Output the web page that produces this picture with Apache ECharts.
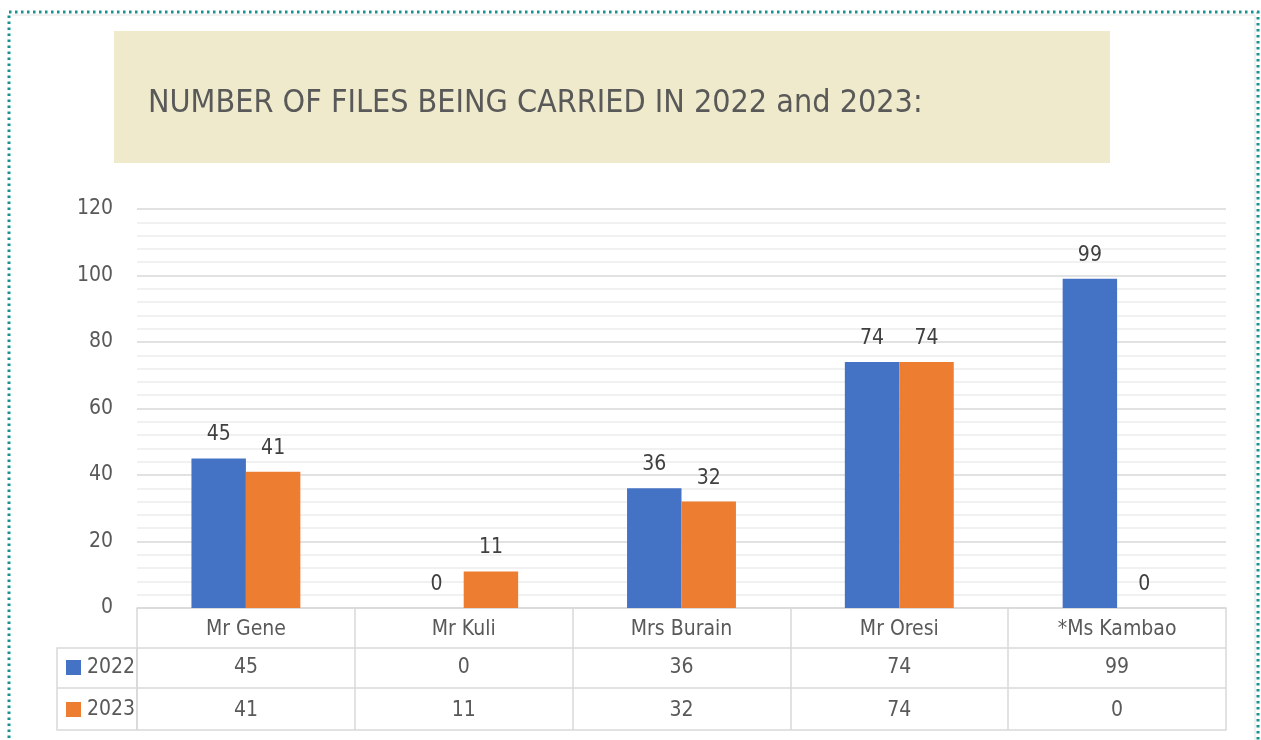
<!DOCTYPE html>
<html>
<head>
<meta charset="utf-8">
<script src="https://cdn.jsdelivr.net/npm/echarts@6/dist/echarts.min.js"></script>
<style>
  html, body { margin: 0; padding: 0; background: #fff; }
  #main { width: 1261px; height: 740px; }
</style>
</head>
<body>
<div id="main"></div>
<script>
// data
var categories = ["Mr Gene", "Mr Kuli", "Mrs Burain", "Mr Oresi", "*Ms Kambao"];
var seriesNames = ["2022", "2023"];
var values2022 = [45, 0, 36, 74, 99];
var values2023 = [41, 11, 32, 74, 0];
var yTicks = [0, 20, 40, 60, 80, 100, 120];
var colors = ["#4472c4", "#ed7d31"];
var titleText = "NUMBER OF FILES BEING CARRIED IN 2022 and 2023:";

var font = "'Liberation Sans Narrow', 'DejaVu Sans Condensed', Roboto, sans-serif";
var textColor = "#595959";
var lineColor = "#d9d9d9";

var myChart = echarts.init(document.getElementById("main"));

// table row axes (header + one per series)
function tableAxis(offset, margin, formatter, showLine) {
  return {
    type: "category",
    data: categories,
    position: "bottom",
    offset: offset,
    axisLine: { show: showLine, lineStyle: { color: lineColor, width: 1.5 } },
    axisTick: { show: false },
    axisLabel: {
      interval: 0,
      margin: margin,
      color: textColor,
      fontFamily: font,
      fontSize: 21,
      formatter: formatter
    }
  };
}

var xAxes = [
  {
    type: "category",
    data: categories,
    position: "bottom",
    axisLine: { show: true, lineStyle: { color: lineColor, width: 1.5 } },
    axisTick: { show: true, interval: 0, length: 122, lineStyle: { color: lineColor, width: 1.5 } },
    axisLabel: { interval: 0, margin: 11, color: textColor, fontFamily: font, fontSize: 21 }
  },
  tableAxis(40, 9, function (v, i) { return String(values2022[i]); }, true),
  tableAxis(80, 12, function (v, i) { return String(values2023[i]); }, true),
  tableAxis(122, 0, function () { return ""; }, true)
];

var option = {
  animation: false,
  textStyle: { fontFamily: font },
  grid: { left: 137, right: 35, top: 209, bottom: 132 },
  xAxis: xAxes,
  yAxis: {
    type: "value",
    min: yTicks[0],
    max: yTicks[yTicks.length - 1],
    interval: yTicks[1] - yTicks[0],
    axisLine: { show: false },
    axisTick: { show: false },
    axisLabel: { margin: 24, color: textColor, fontFamily: font, fontSize: 21, padding: [4, 0, 0, 0] },
    splitLine: { lineStyle: { color: lineColor, width: 1.5 } },
    minorTick: { show: false, splitNumber: 5 },
    minorSplitLine: { show: true, lineStyle: { color: "#ededed", width: 1.5 } }
  },
  series: [
    {
      name: seriesNames[0],
      type: "bar",
      data: values2022,
      barGap: "0%",
      barCategoryGap: "50%",
      itemStyle: { color: colors[0] },
      label: { show: true, position: "top", distance: 13, color: "#404040", fontFamily: font, fontSize: 21 }
    },
    {
      name: seriesNames[1],
      type: "bar",
      data: values2023,
      barGap: "0%",
      barCategoryGap: "50%",
      itemStyle: { color: colors[1] },
      label: { show: true, position: "top", distance: 13, color: "#404040", fontFamily: font, fontSize: 21 }
    }
  ],
  graphic: [
    // outer dotted frame
    { type: "rect", shape: { x: 9, y: 12, width: 1249, height: 740 }, z: 1,
      style: { fill: "none", stroke: "#16938f", lineWidth: 3, lineDash: [2.5, 3.5] } },
    { type: "line", shape: { x1: 12, y1: 15, x2: 1255, y2: 15 }, style: { stroke: "#e3e3e3", lineWidth: 1 } },
    { type: "line", shape: { x1: 1255, y1: 15, x2: 1255, y2: 740 }, style: { stroke: "#e3e3e3", lineWidth: 1 } },
    // title box
    { type: "rect", shape: { x: 114, y: 31, width: 996, height: 132 }, style: { fill: "#efeacb" } },
    { type: "text", left: 148, top: 88, style: { text: titleText, fill: textColor, font: "32px " + font } },
    // legend column of data table
    { type: "rect", shape: { x: 57, y: 648, width: 80, height: 82 }, style: { fill: "none", stroke: lineColor, lineWidth: 1.5 } },
    { type: "line", shape: { x1: 57, y1: 688, x2: 137, y2: 688 }, style: { stroke: lineColor, lineWidth: 1.5 } },
    { type: "rect", shape: { x: 66, y: 660, width: 15, height: 15 }, style: { fill: colors[0] } },
    { type: "text", left: 87, top: 657, style: { text: seriesNames[0], fill: textColor, font: "21px " + font } },
    { type: "rect", shape: { x: 66, y: 702, width: 15, height: 15 }, style: { fill: colors[1] } },
    { type: "text", left: 87, top: 699, style: { text: seriesNames[1], fill: textColor, font: "21px " + font } }
  ]
};

myChart.setOption(option);

window.addEventListener("resize", function () {
  myChart.resize();
});
</script>
</body>
</html>
